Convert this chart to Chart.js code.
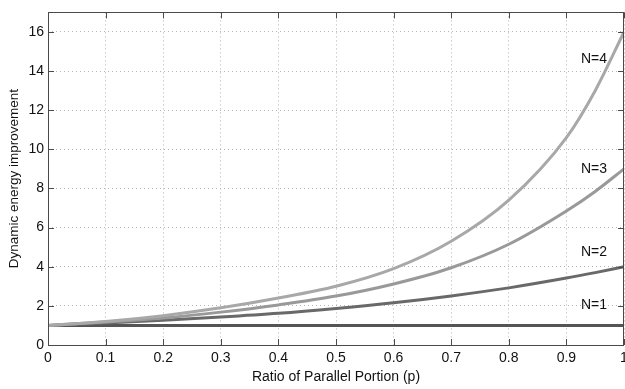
<!DOCTYPE html>
<html lang="en">
  <head>
    <meta charset="UTF-8" />
    <title>Dynamic energy improvement</title>
    <style>
      body {
        margin: 0;
        padding: 0;
        background-color: #fff;
      }
      .chart-container {
        position: relative;
        width: 625px;
        height: 389px;
      }
    </style>
  </head>
  <body>
    <div class="chart-container">
      <canvas id="energyChart"></canvas>
    </div>

    <script src="https://cdn.jsdelivr.net/npm/chart.js"></script>
    <script>
      // values
      const pValues = [0, 0.1, 0.2, 0.3, 0.4, 0.5, 0.6, 0.7, 0.8, 0.9, 0.95, 1];
      const n1 = [1, 1, 1, 1, 1, 1, 1, 1, 1, 1, 1, 1];
      const n2 = [1, 1.13, 1.27, 1.43, 1.62, 1.87, 2.16, 2.51, 2.92, 3.42, 3.7, 4.0];
      const n3 = [1, 1.17, 1.38, 1.68, 2.05, 2.5, 3.12, 3.95, 5.15, 6.85, 7.85, 9.0];
      const n4 = [1, 1.2, 1.5, 1.9, 2.4, 3.0, 3.9, 5.3, 7.4, 10.6, 13.0, 16.0];

      const seriesNames = ["N=1", "N=2", "N=3", "N=4"];
      const seriesColors = ["#555555", "#696969", "#999999", "#a8a8a8"];
      // where the "N=.." text sits, in data units
      const labelP = [0.948, 0.948, 0.948, 0.948];
      const labelY = [2.05, 4.75, 8.97, 14.62];

      const xTicks = [0, 0.1, 0.2, 0.3, 0.4, 0.5, 0.6, 0.7, 0.8, 0.9, 1];
      const yTicks = [0, 2, 4, 6, 8, 10, 12, 14, 16];

      const FONT = "'Liberation Sans', Arial, sans-serif";

      const toPoints = (ys) => ys.map((y, i) => ({ x: pValues[i], y: y }));

      const datasets = [n4, n3, n2, n1].map((ys, k) => {
        const idx = 3 - k;
        return {
          label: seriesNames[idx],
          data: toPoints(ys),
          borderColor: seriesColors[idx],
          borderWidth: 3,
          pointRadius: 0,
          fill: false,
          cubicInterpolationMode: "monotone",
        };
      });

      // matlab-ish box, inward ticks and the N=.. labels
      const boxPlugin = {
        id: "boxPlugin",
        afterDraw(chart) {
          const ctx = chart.ctx;
          const area = chart.chartArea;
          const xs = chart.scales.x;
          const ys = chart.scales.y;
          ctx.save();
          ctx.strokeStyle = "#4a4a4a";
          ctx.lineWidth = 1;
          ctx.beginPath();
          xTicks.forEach((v) => {
            const px = Math.round(xs.getPixelForValue(v)) + 0.5;
            ctx.moveTo(px, area.bottom);
            ctx.lineTo(px, area.bottom - 6);
            ctx.moveTo(px, area.top);
            ctx.lineTo(px, area.top + 6);
          });
          yTicks.forEach((v) => {
            const py = Math.round(ys.getPixelForValue(v)) + 0.5;
            ctx.moveTo(area.left, py);
            ctx.lineTo(area.left + 6, py);
            ctx.moveTo(area.right, py);
            ctx.lineTo(area.right - 6, py);
          });
          ctx.stroke();
          ctx.strokeRect(
            Math.round(area.left) + 0.5,
            Math.round(area.top) + 0.5,
            Math.round(area.right - area.left) - 1,
            Math.round(area.bottom - area.top)
          );

          ctx.fillStyle = "#111";
          ctx.font = "14px " + FONT;
          ctx.textAlign = "center";
          ctx.textBaseline = "middle";
          seriesNames.forEach((name, i) => {
            ctx.fillText(name, xs.getPixelForValue(labelP[i]), ys.getPixelForValue(labelY[i]));
          });
          ctx.restore();
        },
      };

      const ctx = document.getElementById("energyChart").getContext("2d");
      new Chart(ctx, {
        type: "line",
        data: { datasets: datasets },
        plugins: [boxPlugin],
        options: {
          responsive: true,
          maintainAspectRatio: false,
          animation: false,
          layout: {
            padding: { top: 4, right: 1, left: 0, bottom: 0 },
          },
          plugins: {
            legend: { display: false },
            tooltip: { enabled: false },
          },
          scales: {
            x: {
              type: "linear",
              min: 0,
              max: 1,
              afterBuildTicks: (s) => {
                s.ticks = xTicks.map((v) => ({ value: v }));
              },
              afterFit: (s) => {
                s.height = 44;
                s.paddingLeft = 0;
                s.paddingRight = 0;
              },
              grid: {
                color: "#b5b5b5",
                lineWidth: 1,
                drawTicks: false,
              },
              border: { display: false, dash: [1, 3] },
              ticks: {
                color: "#111",
                padding: 5,
                maxRotation: 0,
                font: { family: FONT, size: 14 },
                callback: (v) => String(v),
              },
              title: {
                display: true,
                text: "Ratio of Parallel Portion (p)",
                color: "#111",
                font: { family: FONT, size: 14 },
                padding: { top: 0, bottom: 3 },
              },
            },
            y: {
              type: "linear",
              min: 0,
              max: 17,
              afterBuildTicks: (s) => {
                s.ticks = yTicks.map((v) => ({ value: v }));
              },
              afterFit: (s) => {
                s.width = 48;
              },
              grid: {
                color: "#b5b5b5",
                lineWidth: 1,
                drawTicks: false,
              },
              border: { display: false, dash: [1, 3] },
              ticks: {
                color: "#111",
                padding: 4,
                font: { family: FONT, size: 14 },
              },
              title: {
                display: true,
                text: "Dynamic energy improvement",
                color: "#111",
                font: { family: FONT, size: 13.5 },
                padding: { top: 6, bottom: 0 },
              },
            },
          },
        },
      });
    </script>
  </body>
</html>
